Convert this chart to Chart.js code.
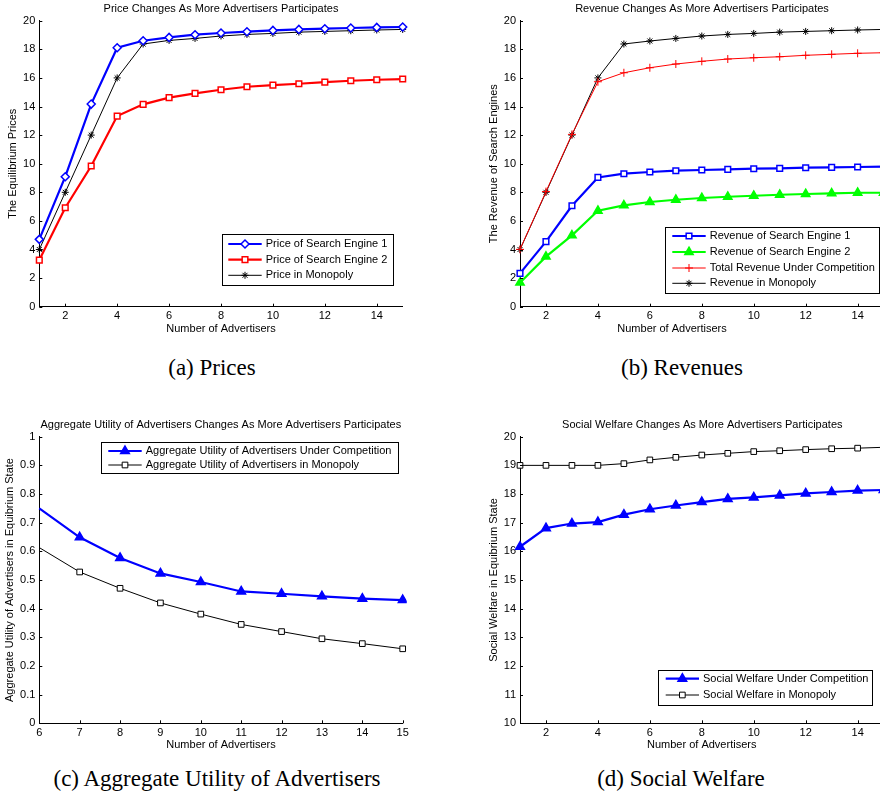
<!DOCTYPE html>
<html><head><meta charset="utf-8">
<script src="https://cdn.jsdelivr.net/npm/chart.js@4.4.1/dist/chart.umd.min.js"></script>
<style>
html,body{margin:0;padding:0;background:#fff;overflow:hidden;}
#wrap{position:relative;width:880px;height:801px;overflow:hidden;background:#fff;}
canvas{position:absolute;display:block;}
.cap{position:absolute;font-family:"Liberation Serif","Times New Roman",serif;font-size:23px;line-height:24px;color:#000;white-space:nowrap;transform:translateX(-50%);}
</style></head><body>
<div id="wrap">
<canvas id="ca" width="440" height="345" style="left:0;top:0"></canvas>
<canvas id="cb" width="460" height="345" style="left:440px;top:0"></canvas>
<canvas id="cc" width="440" height="360" style="left:0;top:400px"></canvas>
<canvas id="cd" width="460" height="360" style="left:440px;top:400px"></canvas>
<div class="cap" style="left:212px;top:356px">(a) Prices</div>
<div class="cap" style="left:682px;top:356px">(b) Revenues</div>
<div class="cap" style="left:217px;top:767px">(c) Aggregate Utility of Advertisers</div>
<div class="cap" style="left:681px;top:767px">(d) Social Welfare</div>
</div>
<script>
// ---------- DATA ----------
const advertisers = [1,2,3,4,5,6,7,8,9,10,11,12,13,14,15];
const priceSE1 = [4.71,9.09,14.17,18.11,18.60,18.83,19.02,19.14,19.23,19.32,19.39,19.44,19.49,19.53,19.56];
const priceSE2 = [3.26,6.92,9.84,13.33,14.15,14.62,14.92,15.17,15.38,15.50,15.59,15.71,15.80,15.87,15.92];
const priceMonopoly = [4.0,8.0,12.0,16.0,18.37,18.62,18.76,18.93,19.04,19.11,19.20,19.25,19.30,19.35,19.39];

const revenueSE1 = [2.33,4.55,7.06,9.04,9.30,9.42,9.51,9.56,9.60,9.65,9.67,9.72,9.74,9.77,9.79];
const revenueSE2 = [1.68,3.50,4.99,6.71,7.09,7.32,7.48,7.60,7.69,7.76,7.83,7.88,7.93,7.97,7.97];
const revenueTotal = [4.01,8.05,12.05,15.73,16.36,16.71,16.97,17.16,17.32,17.41,17.48,17.58,17.65,17.72,17.76];
const revenueMonopoly = [4.0,8.0,12.0,16.0,18.37,18.58,18.76,18.93,19.04,19.11,19.20,19.25,19.30,19.35,19.39];

const advertisersC = [6,7,8,9,10,11,12,13,14,15];
const utilityCompetition = [0.750,0.649,0.577,0.523,0.493,0.460,0.452,0.443,0.435,0.430];
const utilityMonopoly = [0.613,0.528,0.471,0.420,0.381,0.345,0.320,0.295,0.278,0.260];

const welfareCompetition = [16.16,16.81,16.97,17.02,17.28,17.47,17.60,17.72,17.83,17.88,17.95,18.02,18.07,18.12,18.14];
const welfareMonopoly = [19.0,19.0,19.0,19.0,19.06,19.19,19.28,19.36,19.42,19.48,19.51,19.55,19.58,19.60,19.63];

const xTicksAB = [2,4,6,8,10,12,14];
const yTicksAB = [0,2,4,6,8,10,12,14,16,18,20];
const xTicksC = [6,7,8,9,10,11,12,13,14,15];
const yTicksC = [0,0.1,0.2,0.3,0.4,0.5,0.6,0.7,0.8,0.9,1];
const yTickLabelsC = ['0','0.1','0.2','0.3','0.4','0.5','0.6','0.7','0.8','0.9','1'];
const yTicksD = [10,11,12,13,14,15,16,17,18,19,20];

// ---------- HELPERS ----------
const FONT = '"Liberation Sans", Arial, Helvetica, sans-serif';
const pts = (xs, ys) => xs.map((x, i) => ({x: x, y: ys[i]}));

function scales(xmin, xmax, xticks, ymin, ymax, yticks, ylabels) {
  const common = {
    type: 'linear',
    grid: {display: false, drawTicks: false},
    border: {display: true, color: '#000', width: 1}
  };
  return {
    x: Object.assign({}, common, {
      min: xmin, max: xmax,
      afterBuildTicks: s => { s.ticks = xticks.map(v => ({value: v})); },
      afterFit: s => { s.height = 36; },
      ticks: {padding: 3, color: '#000', font: {family: FONT, size: 11}, maxRotation: 0, autoSkip: false,
              callback: v => String(v)}
    }),
    y: Object.assign({}, common, {
      min: ymin, max: ymax,
      afterBuildTicks: s => { s.ticks = yticks.map(v => ({value: v})); },
      afterFit: s => { s.width = 36; },
      ticks: {padding: 4, color: '#000', font: {family: FONT, size: 11}, autoSkip: false,
              callback: (v, i) => ylabels ? ylabels[i] : String(v)}
    })
  };
}

const decor = {
  id: 'decor',
  afterDraw(chart, args, o) {
    const ctx = chart.ctx;
    const ca = chart.chartArea;
    ctx.save();
    // inward tick marks
    ctx.strokeStyle = '#000';
    ctx.lineWidth = 1;
    const xs = chart.scales.x, ys = chart.scales.y;
    ctx.beginPath();
    xs.ticks.forEach(t => {
      const px = Math.round(xs.getPixelForValue(t.value)) + 0.5;
      ctx.moveTo(px, ca.bottom); ctx.lineTo(px, ca.bottom - 3);
    });
    ys.ticks.forEach(t => {
      const py = Math.round(ys.getPixelForValue(t.value)) + 0.5;
      ctx.moveTo(ca.left, py); ctx.lineTo(ca.left + 3, py);
    });
    ctx.stroke();
    // texts
    ctx.fillStyle = '#000';
    ctx.font = '11px ' + FONT;
    ctx.textAlign = 'center';
    ctx.textBaseline = 'middle';
    ctx.fillText(o.title, o.titlePos[0], o.titlePos[1]);
    ctx.fillText(o.xTitle, o.xTitlePos[0], o.xTitlePos[1]);
    ctx.save();
    ctx.translate(o.yTitlePos[0], o.yTitlePos[1]);
    ctx.rotate(-Math.PI / 2);
    ctx.fillText(o.yTitle, 0, 0);
    ctx.restore();
    // legend
    const L = o.legend;
    ctx.fillStyle = '#fff';
    ctx.fillRect(L.box[0], L.box[1], L.box[2] - L.box[0], L.box[3] - L.box[1]);
    ctx.strokeStyle = '#000';
    ctx.lineWidth = 1;
    ctx.strokeRect(Math.round(L.box[0]) + 0.5, Math.round(L.box[1]) + 0.5,
                   Math.round(L.box[2] - L.box[0]), Math.round(L.box[3] - L.box[1]));
    chart.data.datasets.forEach((ds, i) => {
      const y = L.rows[i];
      ctx.strokeStyle = ds.borderColor;
      ctx.lineWidth = ds.borderWidth;
      ctx.beginPath();
      ctx.moveTo(L.line[0], y); ctx.lineTo(L.line[1], y);
      ctx.stroke();
      ctx.fillStyle = ds.pointBackgroundColor;
      ctx.strokeStyle = ds.pointBorderColor;
      ctx.lineWidth = ds.pointBorderWidth;
      Chart.helpers.drawPoint(ctx, {pointStyle: ds.pointStyle, radius: ds.legendRadius || ds.pointRadius,
        borderWidth: ds.pointBorderWidth, rotation: 0}, (L.line[0] + L.line[1]) / 2, y);
      ctx.fillStyle = '#000';
      ctx.font = '11px ' + FONT;
      ctx.textAlign = 'left';
      ctx.textBaseline = 'middle';
      ctx.fillText(ds.label, L.textX, y);
    });
    ctx.restore();
  }
};

function ds(label, data, color, width, style, radius, fill, pbw) {
  return {
    label: label, data: data, borderColor: color, borderWidth: width,
    pointStyle: style, pointRadius: radius, pointHoverRadius: radius,
    pointBackgroundColor: fill, pointBorderColor: color, pointBorderWidth: pbw,
    tension: 0, fill: false, clip: false
  };
}

function make(id, datasets, sc, pad, decorOpts) {
  new Chart(document.getElementById(id), {
    type: 'line',
    data: {datasets: datasets},
    options: {
      responsive: false, animation: false, events: [],
      layout: {autoPadding: false, padding: pad},
      scales: sc,
      plugins: {legend: {display: false}, tooltip: {enabled: false}, title: {display: false}, decor: decorOpts}
    },
    plugins: [decor]
  });
}

// ---------- (a) Prices ----------
make('ca', [
  ds('Price of Search Engine 1', pts(advertisers, priceSE1), '#0000ff', 2.2, 'rectRot', 4, '#ffffff', 1.5),
  ds('Price of Search Engine 2', pts(advertisers, priceSE2), '#ff0000', 2.2, 'rect', 4, '#ffffff', 1.5),
  ds('Price in Monopoly', pts(advertisers, priceMonopoly), '#000000', 1, 'star', 3.5, '#000000', 1)
], scales(1, 15, xTicksAB, 0, 20, yTicksAB),
{left: 3.3, top: 20.7, right: 37.3, bottom: 2.3},
{title: 'Price Changes As More Advertisers Participates', titlePos: [221, 8.5],
 xTitle: 'Number of Advertisers', xTitlePos: [221, 329],
 yTitle: 'The Equilibrium Prices', yTitlePos: [12.5, 163.7],
 legend: {box: [221.7, 234, 392.3, 285], rows: [244, 259.7, 275.3], line: [228.3, 261.7], textX: 265.7}});

// ---------- (b) Revenues ----------
make('cb', [
  ds('Revenue of Search Engine 1', pts(advertisers, revenueSE1), '#0000ff', 2.2, 'rect', 4, '#ffffff', 1.5),
  ds('Revenue of Search Engine 2', pts(advertisers, revenueSE2), '#00ff00', 2.2, 'triangle', 4.8, '#00ff00', 1.5),
  ds('Total Revenue Under Competition', pts(advertisers, revenueTotal), '#ff0000', 1, 'cross', 4, '#ff0000', 1),
  ds('Revenue in Monopoly', pts(advertisers, revenueMonopoly), '#000000', 1, 'star', 3.5, '#000000', 1)
], scales(1, 15, xTicksAB, 0, 20, yTicksAB),
{left: 44, top: 20.7, right: 16.4, bottom: 2.3},
{title: 'Revenue Changes As More Advertisers Participates', titlePos: [262, 8.5],
 xTitle: 'Number of Advertisers', xTitlePos: [232, 329],
 yTitle: 'The Revenue of Search Engines', yTitlePos: [53.5, 163.7],
 legend: {box: [225, 227, 438.7, 293.3], rows: [236, 252, 268, 283.3], line: [232.3, 265.7], textX: 269.7}});

// ---------- (c) Aggregate Utility ----------
const dc1 = ds('Aggregate Utility of Advertisers Under Competition', pts(advertisersC, utilityCompetition), '#0000ff', 2.2, 'triangle', 5, '#0000ff', 1.5);
dc1.pointRadius = c => c.dataIndex === 0 ? 0 : 5; dc1.legendRadius = 5; dc1.clip = 4;
const dc2 = ds('Aggregate Utility of Advertisers in Monopoly', pts(advertisersC, utilityMonopoly), '#000000', 1, 'rect', 4, '#ffffff', 1);
dc2.pointRadius = c => c.dataIndex === 0 ? 0 : 4; dc2.legendRadius = 4; dc2.clip = 4;
make('cc', [dc1, dc2], scales(6, 15, xTicksC, 0, 1, yTicksC, yTickLabelsC),
{left: 3.3, top: 36.7, right: 37.3, bottom: 0.7},
{title: 'Aggregate Utility of Advertisers Changes As More Advertisers Participates', titlePos: [220.8, 24.5],
 xTitle: 'Number of Advertisers', xTitlePos: [221, 345],
 yTitle: 'Aggregate Utility of Advertisers in Equibrium State', yTitlePos: [9.5, 180],
 legend: {box: [101, 42.3, 397.7, 73.3], rows: [51, 65], line: [108.3, 141.7], textX: 145.7}});

// ---------- (d) Social Welfare ----------
make('cd', [
  ds('Social Welfare Under Competition', pts(advertisers, welfareCompetition), '#0000ff', 2.2, 'triangle', 5, '#0000ff', 1.5),
  ds('Social Welfare in Monopoly', pts(advertisers, welfareMonopoly), '#000000', 1, 'rect', 4, '#ffffff', 1)
], scales(1, 15, xTicksAB, 10, 20, yTicksD),
{left: 44, top: 36.7, right: 16.4, bottom: 0.7},
{title: 'Social Welfare Changes As More Advertisers Participates', titlePos: [262.3, 24.5],
 xTitle: 'Number of Advertisers', xTitlePos: [261.7, 345],
 yTitle: 'Social Welfare in Equibrium State', yTitlePos: [53.5, 180],
 legend: {box: [218.3, 269.7, 432.7, 305], rows: [278.7, 295], line: [225.7, 259], textX: 263}});
</script>
</body></html>
